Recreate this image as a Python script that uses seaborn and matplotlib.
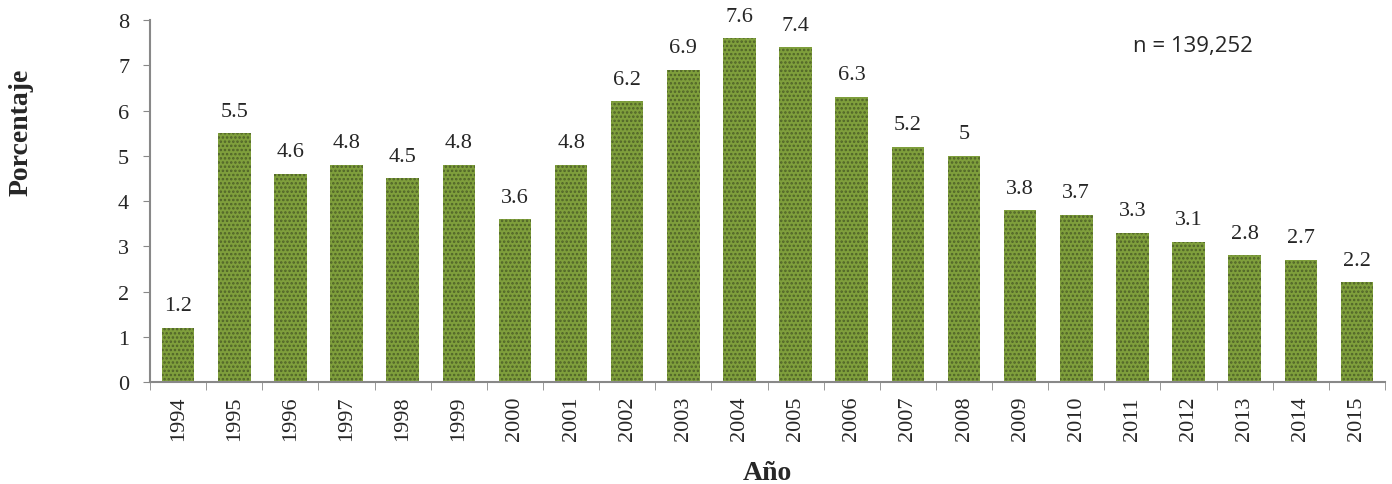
import pandas as pd
import matplotlib
matplotlib.use("Agg")
import matplotlib.pyplot as plt
import seaborn as sns
from matplotlib.ticker import FixedLocator

years = [str(y) for y in range(1994, 2016)]
percent = [1.2, 5.5, 4.6, 4.8, 4.5, 4.8, 3.6, 4.8, 6.2, 6.9, 7.6,
           7.4, 6.3, 5.2, 5.0, 3.8, 3.7, 3.3, 3.1, 2.8, 2.7, 2.2]
labels = ["1.2", "5.5", "4.6", "4.8", "4.5", "4.8", "3.6", "4.8", "6.2", "6.9", "7.6",
          "7.4", "6.3", "5.2", "5", "3.8", "3.7", "3.3", "3.1", "2.8", "2.7", "2.2"]

df = pd.DataFrame({"Año": years, "Porcentaje": percent})

sns.set_style("white")
plt.rcParams["font.family"] = ["Liberation Serif", "DejaVu Serif"]
plt.rcParams["hatch.linewidth"] = 1.2
plt.rcParams["hatch.color"] = "#4f6228"

fig = plt.figure(figsize=(13.92, 4.85), dpi=100)
ax = fig.add_axes([0.1078, 0.2103, 0.8872, 0.7464])

sns.barplot(data=df, x="Año", y="Porcentaje", color="#7f9f3c",
            width=0.58, saturation=1, ax=ax)

for p in ax.patches:
    p.set_hatch("....")
    p.set_edgecolor("#4f6228")
    p.set_linewidth(0)

ax.bar_label(ax.containers[0], labels=labels, padding=9, fontsize=16)

ax.set_ylim(0, 8)
ax.set_xlim(-0.5, len(years) - 0.5)
ax.set_yticks(range(0, 9))
ax.tick_params(axis="y", labelsize=16, length=5, color="#888888", direction="out",
               left=True, pad=10)
ax.tick_params(axis="x", which="major", labelsize=16, length=0, rotation=90, pad=10)
ax.xaxis.set_minor_locator(FixedLocator([i - 0.5 for i in range(len(years) + 1)]))
ax.tick_params(axis="x", which="minor", length=6, color="#888888", direction="out", bottom=True)

for s in ["top", "right"]:
    ax.spines[s].set_visible(False)
for s in ["left", "bottom"]:
    ax.spines[s].set_color("#888888")
    ax.spines[s].set_linewidth(1.5)

ax.set_xlabel("Año", fontsize=20, fontweight="bold", labelpad=14)
ax.set_ylabel("Porcentaje", fontsize=20, fontweight="bold")
ax.yaxis.set_label_coords(-0.094, 0.693)

ax.text(0.796, 0.93, "n = 139,252", transform=ax.transAxes, fontsize=16,
        family=["Open Sans", "DejaVu Sans"], ha="left", va="center")

fig.savefig("out.png", dpi=100)
